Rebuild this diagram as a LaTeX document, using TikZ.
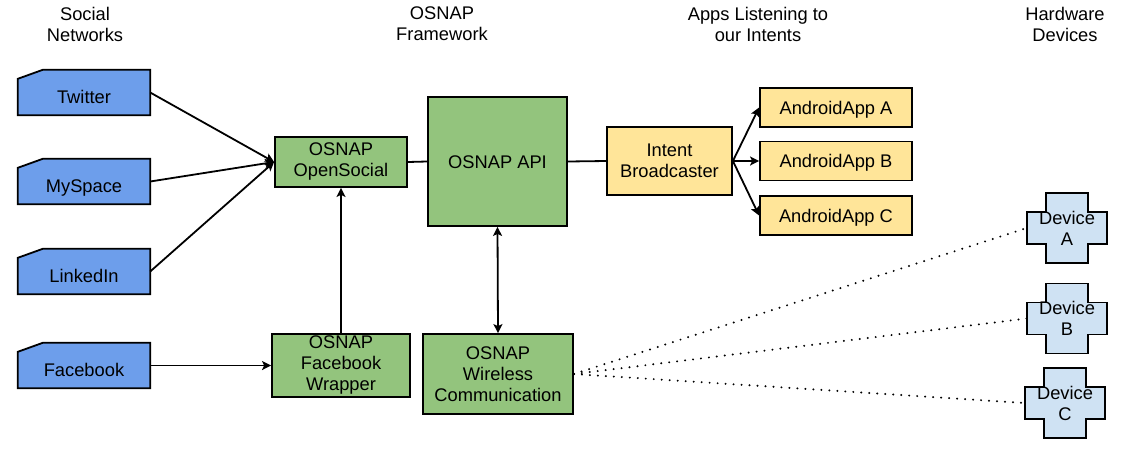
\documentclass[tikz,border=0pt]{standalone}
\usepackage{fontspec}
\setmainfont{Liberation Sans}
\usetikzlibrary{arrows.meta,calc}
\pgfdeclarelayer{bg}
\pgfsetlayers{bg,main}
\definecolor{cblue}{HTML}{6D9EEB}
\definecolor{cgreen}{HTML}{93C47D}
\definecolor{cyellow}{HTML}{FFE599}
\definecolor{clblue}{HTML}{CFE2F3}
\begin{document}
\begin{tikzpicture}[x=1pt,y=-1pt,
  every node/.style={font=\fontsize{18.3}{21}\selectfont, inner sep=0pt, align=center},
  single/.style={text height=13pt, text depth=0pt},
  hdr/.style={},
  card/.style={single, minimum width=132pt, minimum height=45pt},
  cardshape/.style={draw=black, fill=cblue, line width=1.8pt, line join=miter},
  gbox/.style={draw=black, fill=cgreen, line width=1.8pt},
  ybox/.style={draw=black, fill=cyellow, line width=1.8pt},
  dev/.style={minimum width=80pt, minimum height=70pt},
  devshape/.style={draw=black, fill=clblue, line width=1.8pt},
  conn/.style={line width=1.8pt},
  arr/.style={line width=1.8pt, -{Stealth[length=9pt,width=9pt,inset=2pt]}},
  darr/.style={line width=1.8pt, {Stealth[length=9pt,width=9pt,inset=2pt]}-{Stealth[length=9pt,width=9pt,inset=2pt]}},
  dotline/.style={line width=2.2pt, line cap=round, dash pattern=on 0pt off 8pt}
]
\useasboundingbox (0,0) rectangle (1130,461);

% headers
\node[hdr] (h1) at (85,24) {Social\\Networks};
\node[hdr] (h2) at (442,24) {OSNAP\\Framework};
\node[hdr] (h3) at (758,24) {Apps Listening to\\our Intents};
\node[hdr] (h4) at (1065,24) {Hardware\\Devices};

% social network cards
\node[card] (tw) at (84,92.5) {\raisebox{-4.5pt}{Twitter}};
\node[card] (ms) at (84,181.5) {\raisebox{-4.5pt}{MySpace}};
\node[card] (li) at (84,271.5) {\raisebox{-4.5pt}{LinkedIn}};
\node[card] (fb) at (84,365.5) {\raisebox{-4.5pt}{Facebook}};
\begin{pgfonlayer}{bg}
\foreach \n in {tw,ms,li,fb}
  \draw[cardshape] ([yshift=-9pt]\n.north west) -- ([xshift=25pt]\n.north west)
     -- (\n.north east) -- (\n.south east) -- (\n.south west) -- cycle;
\end{pgfonlayer}

% OSNAP framework
\node[gbox, minimum width=132pt, minimum height=50pt] (os) at (341,162) {OSNAP\\OpenSocial};
\node[gbox, single, minimum width=139pt, minimum height=129pt] (api) at (497.5,161.5) {OSNAP API};
\node[gbox, minimum width=138pt, minimum height=63pt] (fw) at (341,365.5) {OSNAP\\Facebook\\Wrapper};
\node[gbox, minimum width=150pt, minimum height=80pt] (wc) at (498,374) {OSNAP\\Wireless\\Communication};

% intents
\node[ybox, minimum width=125pt, minimum height=68pt] (ib) at (669.5,161) {Intent\\Broadcaster};
\node[ybox, single, minimum width=152pt, minimum height=39pt] (aa) at (836,107.5) {AndroidApp A};
\node[ybox, single, minimum width=152pt, minimum height=39pt] (ab) at (836,161) {AndroidApp B};
\node[ybox, single, minimum width=152pt, minimum height=39pt] (ac) at (836,215.5) {AndroidApp C};

% devices
\node[dev] (da) at (1067,228) {Device\\A};
\node[dev] (db) at (1067,318.5) {Device\\B};
\node[dev] (dc) at (1065,403) {Device\\C};
\begin{pgfonlayer}{bg}
\foreach \n in {da,db,dc}
  \draw[devshape] ($(\n.center)+(-21,-35)$) -- ++(42,0) -- ++(0,19) -- ++(19,0)
     -- ++(0,32) -- ++(-19,0) -- ++(0,19) -- ++(-42,0) -- ++(0,-19) -- ++(-19,0)
     -- ++(0,-32) -- ++(19,0) -- cycle;
\end{pgfonlayer}

% connectors
\draw[arr] (tw.east) -- (os.west);
\draw[arr] (ms.east) -- (os.west);
\draw[arr] (li.east) -- (os.west);
\draw[arr] (fb.east) -- (fw.west);
\draw[arr] (fw.north) -- (os.south);
\draw[conn] (os.east) -- (api.west);
\draw[conn] (api.east) -- (ib.west);
\draw[darr] (api.south) -- (wc.north);
\draw[arr] (ib.east) -- (aa.west);
\draw[arr] (ib.east) -- (ab.west);
\draw[arr] (ib.east) -- (ac.west);
\draw[dotline] (wc.east) -- (da.west);
\draw[dotline] (wc.east) -- (db.west);
\draw[dotline] (wc.east) -- (dc.west);
\end{tikzpicture}
\end{document}
